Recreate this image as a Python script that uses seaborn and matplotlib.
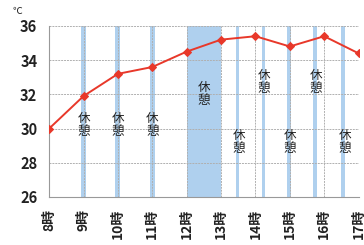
import pandas as pd
import matplotlib
matplotlib.use("Agg")
import matplotlib.pyplot as plt
import seaborn as sns

# data
hours = [8, 9, 10, 11, 12, 13, 14, 15, 16, 17]
temps = [30.0, 31.9, 33.2, 33.6, 34.5, 35.2, 35.4, 34.8, 35.4, 34.4]
hour_labels = [f"{h}時" for h in hours]

# rest periods (start, end in hours)
rest_start = [8.93, 9.93, 10.93, 12.0, 13.43, 14.18, 14.93, 15.68, 16.5]
rest_end = [9.07, 10.07, 11.07, 13.0, 13.53, 14.28, 15.03, 15.78, 16.6]

# "休憩" label anchors (hour, temperature)
note_x = [9, 10, 11, 12.5, 13.52, 14.25, 15.0, 15.75, 16.6]
note_y = [30.2, 30.2, 30.2, 32.0, 29.2, 32.7, 29.2, 32.7, 29.2]

sns.set_style("white")
plt.rcParams["font.family"] = ["Noto Sans CJK JP", "DejaVu Sans"]

df = pd.DataFrame({"hour": hours, "temp": temps})

fig = plt.figure(figsize=(3.64, 2.45), dpi=100)
ax = fig.add_axes([0.135, 0.196, 0.85, 0.698])

for s, e in zip(rest_start, rest_end):
    ax.axvspan(s, e, color="#afd0ee", lw=0, zorder=0)

ax.grid(True, color="#b0b0b0", lw=0.7, ls=(0, (2, 1)), zorder=1)
ax.set_axisbelow(True)

sns.lineplot(data=df, x="hour", y="temp", ax=ax, color="#e8382a", lw=1.4,
             marker="D", markersize=4.5, markeredgecolor="#e8382a", zorder=3)

for x, y in zip(note_x, note_y):
    ax.text(x, y, "休\n憩", ha="center", va="center", fontsize=9,
            color="#222222", linespacing=1.0, zorder=4)

ax.set_xlim(8, 17)
ax.set_ylim(26, 36)
ax.set_xticks(hours)
ax.set_xticklabels(hour_labels, rotation=90, fontsize=10, fontweight="bold",
                   color="#222222")
ax.set_yticks([26, 28, 30, 32, 34, 36])
ax.tick_params(axis="y", labelsize=10.5, length=5, color="#999999",
               labelcolor="#222222", width=0.8)
ax.tick_params(axis="x", length=5, color="#999999", width=0.8)
for lab in ax.get_yticklabels():
    lab.set_fontweight("bold")
ax.set_xlabel("")
ax.set_ylabel("")

for side in ["top", "right"]:
    ax.spines[side].set_visible(False)
for side in ["left", "bottom"]:
    ax.spines[side].set_color("#999999")
    ax.spines[side].set_linewidth(0.8)

fig.text(0.035, 0.955, "℃", fontsize=7, color="#222222", va="center")

fig.savefig("out.png", dpi=100)
